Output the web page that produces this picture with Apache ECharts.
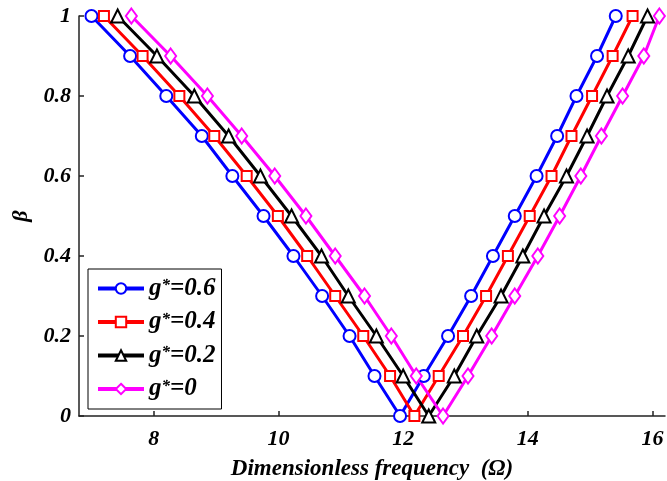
<!DOCTYPE html>
<html>
<head>
<meta charset="utf-8">
<script src="https://cdn.jsdelivr.net/npm/echarts@6/dist/echarts.min.js"></script>
<style>
html, body { margin: 0; padding: 0; background: #fff; }
#main { width: 667px; height: 481px; }
</style>
</head>
<body>
<div id="main"></div>
<script>
// β 取值：左支 1 -> 0，右支 0.1 -> 1
var beta = [1, 0.9, 0.8, 0.7, 0.6, 0.5, 0.4, 0.3, 0.2, 0.1, 0,
            0.1, 0.2, 0.3, 0.4, 0.5, 0.6, 0.7, 0.8, 0.9, 1];
// 各 g* 对应的无量纲频率
var omegaG06 = [7.00, 7.62, 8.20, 8.77, 9.26, 9.76, 10.24, 10.70, 11.14, 11.54, 11.95,
                12.33, 12.72, 13.09, 13.44, 13.79, 14.14, 14.47, 14.78, 15.11, 15.41];
var omegaG04 = [7.20, 7.82, 8.41, 8.97, 9.49, 9.99, 10.46, 10.91, 11.36, 11.79, 12.18,
                12.57, 12.96, 13.33, 13.68, 14.03, 14.38, 14.70, 15.03, 15.36, 15.68];
var omegaG02 = [7.42, 8.05, 8.65, 9.20, 9.71, 10.21, 10.69, 11.12, 11.57, 12.00, 12.41,
                12.82, 13.18, 13.57, 13.92, 14.26, 14.62, 14.95, 15.27, 15.61, 15.92];
var omegaG0  = [7.64, 8.27, 8.86, 9.41, 9.94, 10.44, 10.91, 11.38, 11.81, 12.21, 12.64,
                13.04, 13.42, 13.79, 14.16, 14.51, 14.85, 15.18, 15.52, 15.86, 16.11];
var seriesNames = ['g*=0.6', 'g*=0.4', 'g*=0.2', 'g*=0'];
var xTicks = [8, 10, 12, 14, 16];

var fontFam = '"Liberation Serif", "Times New Roman", serif';

function pairs(xs) {
	var out = [];
	for (var i = 0; i < xs.length; i++) out.push([xs[i], beta[i]]);
	return out;
}

function mkSeries(name, xs, color, symbol, size) {
	return {
		name: name,
		type: 'line',
		data: pairs(xs),
		symbol: symbol,
		symbolSize: size,
		showAllSymbol: true,
		lineStyle: { color: color, width: 3 },
		itemStyle: { color: color, borderColor: color, borderWidth: 3 },
		animation: false
	};
}

var chart = echarts.init(document.getElementById('main'));
var option = {
	backgroundColor: '#fff',
	grid: { left: 79, right: 2, top: 16, bottom: 65, outerBoundsMode: 'none', containLabel: false },
	legend: {
		orient: 'vertical',
		left: 88,
		top: 269,
		width: 132,
		padding: [7, 6, 4, 8],
		itemGap: 5,
		itemWidth: 46,
		itemHeight: 13,
		backgroundColor: '#fff',
		borderColor: '#000',
		borderWidth: 1,
		lineStyle: { width: 4 },
		data: seriesNames,
		formatter: function(name) {
			return '{g|g}{s|*}{v|' + name.slice(2) + '}';
		},
		textStyle: {
			rich: {
				g: { fontFamily: fontFam, fontSize: 25, fontWeight: 'bold', fontStyle: 'italic', color: '#000', lineHeight: 22 },
				s: { fontFamily: fontFam, fontSize: 17, fontWeight: 'bold', fontStyle: 'italic', color: '#000', verticalAlign: 'top', lineHeight: 12, padding: [0, 0, 10, 0] },
				v: { fontFamily: fontFam, fontSize: 25, fontWeight: 'bold', fontStyle: 'italic', color: '#000', lineHeight: 22 }
			}
		}
	},
	xAxis: {
		type: 'value',
		min: 6.8,
		max: 16.2,
		name: 'Dimensionless frequency  (Ω)',
		nameLocation: 'middle',
		nameGap: 42,
		nameTextStyle: { fontFamily: fontFam, fontSize: 23, fontWeight: 'bold', fontStyle: 'italic', color: '#000' },
		splitLine: { show: false },
		axisLine: { onZero: false, lineStyle: { color: '#222', width: 1.5 } },
		axisTick: { inside: true, length: 5, customValues: xTicks, lineStyle: { color: '#222', width: 1.5 } },
		axisLabel: { customValues: xTicks, margin: 12, fontFamily: fontFam, fontSize: 22, fontWeight: 'bold', fontStyle: 'italic', color: '#000' }
	},
	yAxis: {
		type: 'value',
		min: 0,
		max: 1,
		interval: 0.2,
		name: 'β',
		nameLocation: 'middle',
		nameGap: 46,
		nameTextStyle: { fontFamily: fontFam, fontSize: 22, fontWeight: 'bold', fontStyle: 'italic', color: '#000' },
		splitLine: { show: false },
		axisLine: { show: true, lineStyle: { color: '#222', width: 1.5 } },
		axisTick: { show: true, inside: true, length: 5, lineStyle: { color: '#222', width: 1.5 } },
		axisLabel: { margin: 8, fontFamily: fontFam, fontSize: 22, fontWeight: 'bold', fontStyle: 'italic', color: '#000' }
	},
	series: [
		mkSeries(seriesNames[0], omegaG06, '#0000ff', 'emptyCircle', 12),
		mkSeries(seriesNames[1], omegaG04, '#ff0000', 'emptyRect', 10),
		mkSeries(seriesNames[2], omegaG02, '#000000', 'emptyTriangle', 13),
		mkSeries(seriesNames[3], omegaG0, '#ff00ff', 'emptyDiamond', [11, 15])
	]
};
chart.setOption(option);
window.onresize = function() {
	chart.resize();
};
</script>
</body>
</html>
